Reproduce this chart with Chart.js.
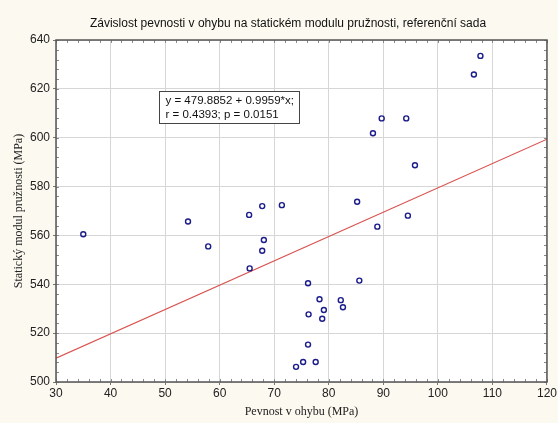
<!DOCTYPE html>
<html>
<head>
<meta charset="utf-8">
<script src="https://cdn.jsdelivr.net/npm/chart.js@4/dist/chart.umd.min.js"></script>
<style>
  html, body { margin: 0; padding: 0; background: #fcf9f0; }
  #wrap { width: 558px; height: 423px; position: relative; }
</style>
</head>
<body>
<div id="wrap"><canvas id="scatter"></canvas></div>
<script>
// Pevnost v ohybu (MPa) vs. statický modul pružnosti (MPa), referenční sada
const bendStrength = [
  35.0, 54.2, 57.9, 65.4, 65.5, 67.8, 71.4, 85.2, 88.9, 94.5,
  68.1, 67.8, 76.2, 85.6, 78.3, 82.2, 82.6, 79.1, 76.3, 78.8,
  76.2, 75.3, 77.6, 74.0, 107.8, 106.6, 89.7, 94.2, 88.1, 95.8
];
const staticModulus = [
  560.5, 565.7, 555.5, 568.4, 546.5, 572.0, 572.4, 573.8, 563.6, 568.1,
  558.1, 553.7, 540.4, 541.5, 533.9, 533.5, 530.6, 529.5, 527.7, 525.9,
  515.3, 508.2, 508.2, 506.2, 633.5, 625.9, 607.9, 607.9, 601.8, 588.7
];

// fitted line y = a + b*x and its statistics
const fitIntercept = 479.8852;
const fitSlope = 0.9959;
const fitR = 0.4393;
const fitP = 0.0151;

const xTicks = [30, 40, 50, 60, 70, 80, 90, 100, 110, 120];
const yTicks = [500, 520, 540, 560, 580, 600, 620, 640];

const chartTitle = 'Závislost pevnosti v ohybu na statickém modulu pružnosti, referenční sada';

const xMin = xTicks[0], xMax = xTicks[xTicks.length - 1];
const yMin = yTicks[0], yMax = yTicks[yTicks.length - 1];

const points = bendStrength.map((x, i) => ({ x: x, y: staticModulus[i] }));
const fitLine = [xMin, xMax].map(x => ({ x: x, y: fitIntercept + fitSlope * x }));

const fitLabel = [
  'y = ' + fitIntercept.toFixed(4) + ' + ' + fitSlope.toFixed(4) + '*x;',
  'r = ' + fitR.toFixed(4) + '; p = ' + fitP.toFixed(4)
];

const sansFont = '"Liberation Sans", Arial, sans-serif';
const serifFont = '"Liberation Serif", "Times New Roman", serif';

// white plot area, frame with inward minor ticks, title and the equation box
const plotFrame = {
  id: 'plotFrame',
  beforeDraw(chart) {
    const { ctx, chartArea: a } = chart;
    ctx.save();
    ctx.fillStyle = '#ffffff';
    ctx.fillRect(a.left, a.top, a.right - a.left, a.bottom - a.top);
    ctx.fillStyle = '#111111';
    ctx.font = '12px ' + sansFont;
    ctx.textAlign = 'center';
    ctx.textBaseline = 'middle';
    ctx.fillText(chartTitle, 288, 24);
    ctx.restore();
  },
  afterDatasetsDraw(chart) {
    const { ctx, chartArea: a, scales } = chart;
    ctx.save();
    ctx.strokeStyle = '#8a8a8a';
    ctx.lineWidth = 1;
    ctx.beginPath();
    for (let v = xMin; v <= xMax; v += 2) {
      const px = Math.round(scales.x.getPixelForValue(v)) + 0.5;
      ctx.moveTo(px, a.bottom); ctx.lineTo(px, a.bottom - 3);
      ctx.moveTo(px, a.top); ctx.lineTo(px, a.top + 3);
    }
    for (let v = yMin; v <= yMax; v += 4) {
      const py = Math.round(scales.y.getPixelForValue(v)) + 0.5;
      ctx.moveTo(a.left, py); ctx.lineTo(a.left + 3, py);
      ctx.moveTo(a.right, py); ctx.lineTo(a.right - 3, py);
    }
    ctx.stroke();

    ctx.strokeStyle = '#555555';
    ctx.lineWidth = 1.5;
    ctx.strokeRect(a.left, a.top, a.right - a.left, a.bottom - a.top);

    // equation box, anchored in data coordinates
    const bx = Math.round(scales.x.getPixelForValue(48.9)) + 0.5;
    const by = Math.round(scales.y.getPixelForValue(619.3)) + 0.5;
    const bw = 140, bh = 32;
    ctx.fillStyle = '#ffffff';
    ctx.fillRect(bx, by, bw, bh);
    ctx.strokeStyle = '#444444';
    ctx.lineWidth = 1;
    ctx.strokeRect(bx, by, bw, bh);
    ctx.fillStyle = '#111111';
    ctx.font = '11.5px ' + sansFont;
    ctx.textBaseline = 'middle';
    ctx.textAlign = 'left';
    ctx.fillText(fitLabel[0], bx + 6, by + 9);
    ctx.fillText(fitLabel[1], bx + 6, by + 23);
    ctx.restore();
  }
};

new Chart(document.getElementById('scatter'), {
  type: 'scatter',
  data: {
    datasets: [
      {
        label: 'data',
        data: points,
        pointStyle: 'circle',
        pointRadius: 2.5,
        pointBorderWidth: 1.4,
        pointBorderColor: '#1c1c8c',
        pointBackgroundColor: 'rgba(255,255,255,0)',
        order: 1
      },
      {
        label: 'fit',
        type: 'line',
        data: fitLine,
        borderColor: '#d9534f',
        borderWidth: 1.2,
        pointRadius: 0,
        fill: false,
        order: 2
      }
    ]
  },
  plugins: [plotFrame],
  options: {
    responsive: true,
    maintainAspectRatio: false,
    animation: false,
    layout: { padding: { left: 0, right: 11, top: 40, bottom: 0 } },
    plugins: {
      legend: { display: false },
      tooltip: { enabled: false },
      title: { display: false }
    },
    scales: {
      x: {
        type: 'linear',
        min: xMin,
        max: xMax,
        afterBuildTicks: (scale) => { scale.ticks = xTicks.map(v => ({ value: v })); },
        afterFit: (scale) => { scale.height = 41; },
        grid: { color: '#d6d6d6', drawTicks: true, tickLength: 3, tickColor: '#777777' },
        border: { display: false },
        ticks: {
          color: '#222222',
          padding: 1,
          maxRotation: 0,
          font: { family: sansFont, size: 12 }
        },
        title: {
          display: true,
          text: 'Pevnost v ohybu (MPa)',
          color: '#222222',
          padding: { top: 0, bottom: 4 },
          font: { family: serifFont, size: 12 }
        }
      },
      y: {
        type: 'linear',
        min: yMin,
        max: yMax,
        afterBuildTicks: (scale) => { scale.ticks = yTicks.map(v => ({ value: v })); },
        afterFit: (scale) => { scale.width = 56; },
        grid: { color: '#d6d6d6', drawTicks: true, tickLength: 3, tickColor: '#777777' },
        border: { display: false },
        ticks: {
          color: '#222222',
          padding: 3,
          font: { family: sansFont, size: 12 }
        },
        title: {
          display: true,
          text: 'Statický modul pružnosti (MPa)',
          color: '#222222',
          padding: { top: 12, bottom: 0 },
          font: { family: serifFont, size: 12 }
        }
      }
    }
  }
});
</script>
</body>
</html>
